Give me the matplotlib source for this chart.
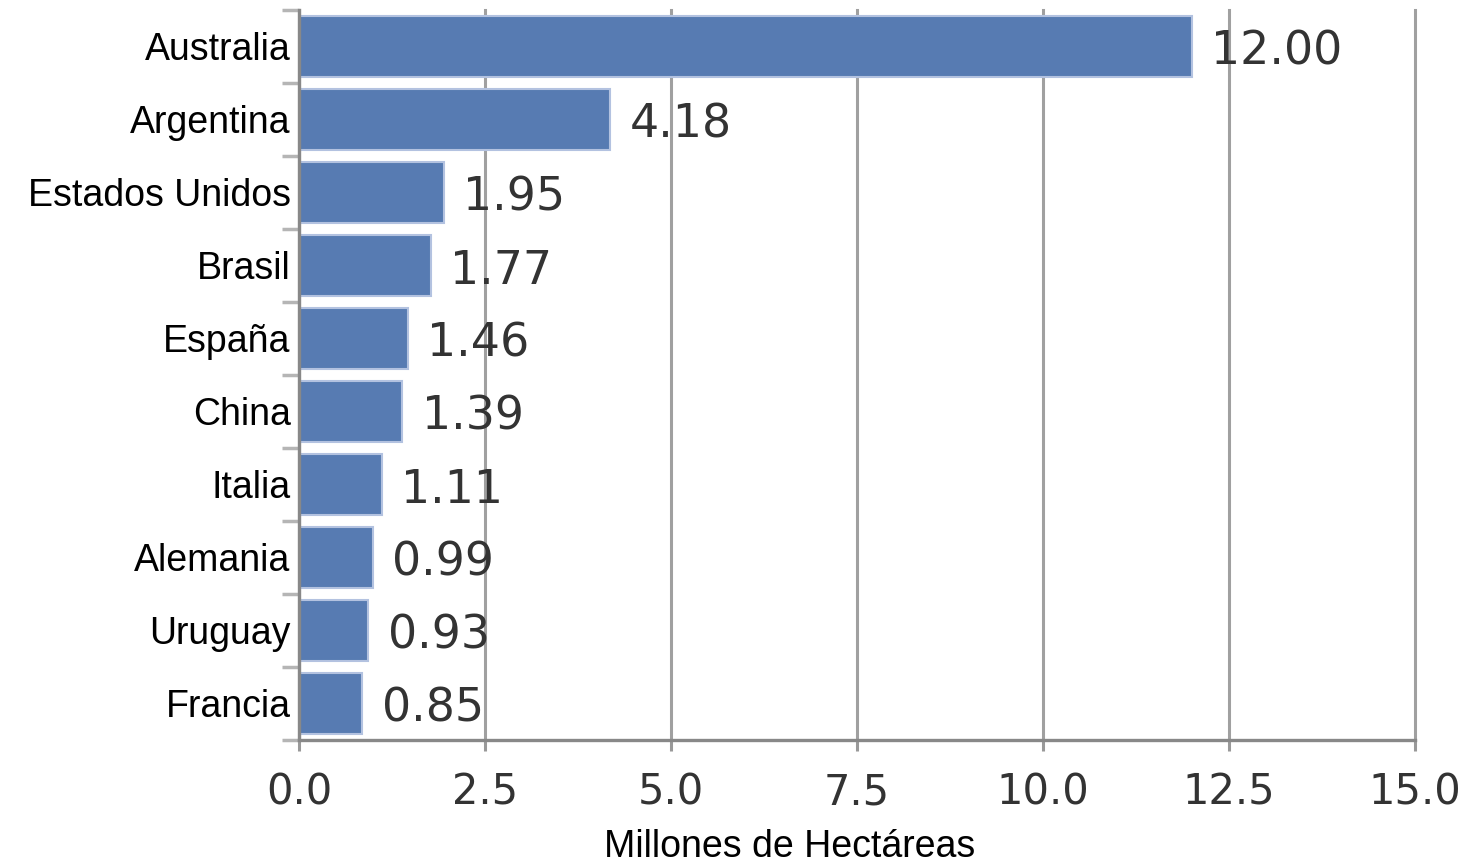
import matplotlib.pyplot as plt
import numpy as np

# data
paises = ["Australia", "Argentina", "Estados Unidos", "Brasil", "España",
          "China", "Italia", "Alemania", "Uruguay", "Francia"]
hectareas = [12.00, 4.18, 1.95, 1.77, 1.46, 1.39, 1.11, 0.99, 0.93, 0.85]
xticks = [0, 2.5, 5, 7.5, 10, 12.5, 15]

fig = plt.figure(figsize=(14.69, 8.67), dpi=100)
ax = fig.add_axes([0.2035, 0.1465, 0.7598, 0.842])

y = np.arange(len(paises))
bars = ax.barh(y, hectareas, height=0.84, color="#577bb2",
               edgecolor="#b3c2e0", linewidth=1.5, zorder=3)

# value labels
for b, v in zip(bars, hectareas):
    ax.annotate(f"{v:.2f}", (b.get_width(), b.get_y() + b.get_height() / 2),
                xytext=(14, -4), textcoords="offset points",
                ha="left", va="center", fontsize=33,
                family="DejaVu Sans", color="#333333")

ax.set_ylim(len(paises) - 0.5, -0.5)
ax.set_xlim(0, 15)

# X
ax.set_xticks(xticks)
ax.set_xticklabels([f"{t:.1f}" for t in xticks], family="DejaVu Sans",
                   fontsize=30, color="#333333")
ax.tick_params(axis="x", length=8, width=2.2, color="#999999", pad=15)
ax.xaxis.grid(True, color="#a0a0a0", linewidth=2.2, zorder=0)
for g in ax.xaxis.get_gridlines():
    g.set_clip_on(False)

# Y
ax.set_yticks(y)
ax.set_yticklabels(paises, family="Liberation Sans", fontsize=27, color="black")
ax.tick_params(axis="y", which="major", length=0, pad=6)
ax.set_yticks(np.arange(-0.5, len(paises)), minor=True)
ax.tick_params(axis="y", which="minor", length=12, width=2.5, color="#b5b5b5")

ax.set_xlabel("Millones de Hectáreas", family="Liberation Sans", fontsize=27)
ax.xaxis.set_label_coords(0.44, -0.122)

for s in ["top", "right"]:
    ax.spines[s].set_visible(False)
for s in ["left", "bottom"]:
    ax.spines[s].set_color("#888888")
    ax.spines[s].set_linewidth(2.4)
    ax.spines[s].set_zorder(4)

fig.savefig("out.png", dpi=100)
